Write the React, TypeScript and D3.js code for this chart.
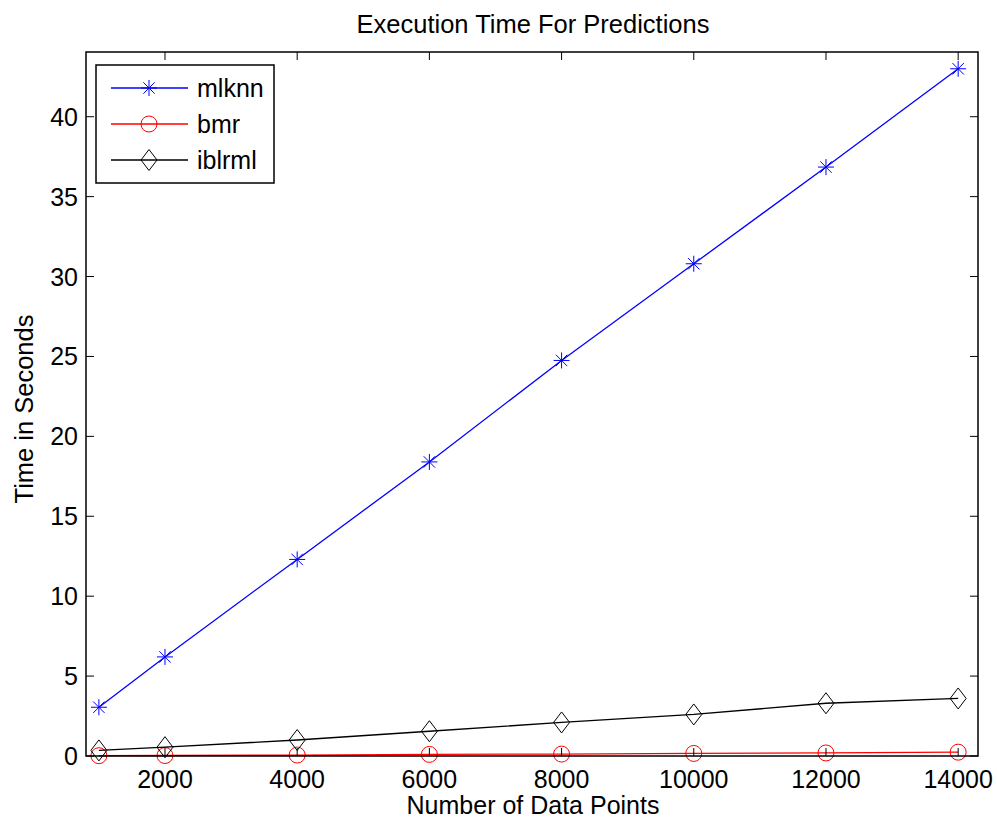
import React from "react";
import * as d3 from "d3";

const xValues = [1000, 2000, 4000, 6000, 8000, 10000, 12000, 14000];
const mlknn = [3.05, 6.2, 12.3, 18.4, 24.75, 30.8, 36.85, 43.0];
const bmr = [0.02, 0.03, 0.06, 0.1, 0.12, 0.16, 0.19, 0.24];
const iblrml = [0.35, 0.55, 1.0, 1.55, 2.1, 2.6, 3.3, 3.6];
const xTicks = [2000, 4000, 6000, 8000, 10000, 12000, 14000];
const yTicks = [0, 5, 10, 15, 20, 25, 30, 35, 40];
const seriesNames = ["mlknn", "bmr", "iblrml"];
const seriesColors = ["#0000ff", "#ff0000", "#000000"];

const W = 997, H = 820;
const L = 86, R = 978, T = 52, B = 756;
const FONT = "Arial, 'Liberation Sans', sans-serif";

function Marker({ kind, x, y, color }: { kind: number; x: number; y: number; color: string }) {
  if (kind === 0) {
    const r = 8, d = 5.7;
    return (
      <g stroke={color} strokeWidth={1}>
        <line x1={x - r} y1={y} x2={x + r} y2={y} />
        <line x1={x} y1={y - r} x2={x} y2={y + r} />
        <line x1={x - d} y1={y - d} x2={x + d} y2={y + d} />
        <line x1={x - d} y1={y + d} x2={x + d} y2={y - d} />
      </g>
    );
  }
  if (kind === 1) {
    return <circle cx={x} cy={y} r={8} fill="none" stroke={color} strokeWidth={1} />;
  }
  const hw = 8, hh = 10.5;
  return (
    <path
      d={`M${x},${y - hh}L${x + hw},${y}L${x},${y + hh}L${x - hw},${y}Z`}
      fill="none"
      stroke={color}
      strokeWidth={1}
    />
  );
}

export default function App() {
  const x = d3.scaleLinear().domain([805, 14300]).range([L, R]);
  const y = d3.scaleLinear().domain([0, 44.05]).range([B, T]);
  const data = [mlknn, bmr, iblrml];
  const line = d3
    .line<number>()
    .x((_, i) => x(xValues[i]))
    .y((d) => y(d));
  const tick = 8;

  return (
    <svg width={W} height={H} style={{ position: "absolute", left: 0, top: 0, background: "#fff" }} fontFamily={FONT}>
      <rect x={0} y={0} width={W} height={H} fill="#fff" />
      <text x={533} y={33} textAnchor="middle" fontSize={25.5}>
        Execution Time For Predictions
      </text>
      {data.map((s, k) => (
        <g key={k}>
          <path d={line(s) || ""} fill="none" stroke={seriesColors[k]} strokeWidth={1.3} />
          {s.map((v, i) => (
            <Marker key={i} kind={k} x={x(xValues[i])} y={y(v)} color={seriesColors[k]} />
          ))}
        </g>
      ))}
      <rect x={L} y={T} width={R - L} height={B - T} fill="none" stroke="#000" strokeWidth={1.5} />
      {xTicks.map((t) => (
        <g key={t} stroke="#000" strokeWidth={1}>
          <line x1={x(t)} y1={B} x2={x(t)} y2={B - tick} />
          <line x1={x(t)} y1={T} x2={x(t)} y2={T + tick} />
        </g>
      ))}
      {yTicks.map((t) => (
        <g key={t} stroke="#000" strokeWidth={1}>
          <line x1={L} y1={y(t)} x2={L + tick} y2={y(t)} />
          <line x1={R} y1={y(t)} x2={R - tick} y2={y(t)} />
        </g>
      ))}
      {xTicks.map((t) => (
        <text key={t} x={x(t)} y={B + 32} textAnchor="middle" fontSize={25}>
          {t}
        </text>
      ))}
      {yTicks.map((t) => (
        <text key={t} x={L - 8} y={y(t) + 9} textAnchor="end" fontSize={25}>
          {t}
        </text>
      ))}
      <text x={533} y={814} textAnchor="middle" fontSize={25}>
        Number of Data Points
      </text>
      <text transform={`translate(33, 409) rotate(-90)`} textAnchor="middle" fontSize={25.5}>
        Time in Seconds
      </text>
      <rect x={96} y={65} width={178} height={118} fill="#fff" stroke="#000" strokeWidth={1.5} />
      {seriesNames.map((n, k) => {
        const ly = 88 + k * 36;
        return (
          <g key={n}>
            <line x1={111} y1={ly} x2={188} y2={ly} stroke={seriesColors[k]} strokeWidth={1.3} />
            <Marker kind={k} x={149} y={ly} color={seriesColors[k]} />
            <text x={197} y={ly + 9} fontSize={25}>
              {n}
            </text>
          </g>
        );
      })}
    </svg>
  );
}
